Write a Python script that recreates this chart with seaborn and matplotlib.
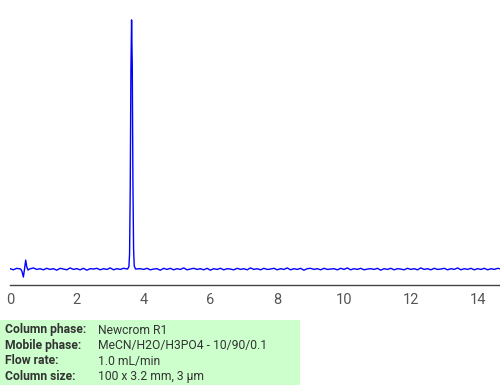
import numpy as np
import pandas as pd
import matplotlib
matplotlib.use("Agg")
import matplotlib.pyplot as plt
import seaborn as sns

# ---- data ----
noise_step = 0.1
baseline_noise = [
    1, -2, 2, -1, 0, 2, -2, 3, -1, 1,
    -2, 2, -1, 1, -3, 2, 0, -2, 3, -1,
    1, -2, 2, -3, 1, 0, 2, -2, 1, -1,
    3, -2, 1, -1, 2, -3, 1, 2, -2, 1,
    -1, 2, -2, 0, 1, -3, 2, -1, 2, -2,
    1, -1, 3, -2, 0, 2, -1, 1, -2, 2,
    -3, 1, -1, 2, -2, 1, 0, -2, 2, -1,
    1, -2, 3, -1, 1, -2, 2, -1, 0, 2,
    -2, 1, -1, 3, -2, 1, -1, 2, -3, 1,
    2, -1, 1, -2, 2, -1, 0, 1, -2, 2,
    -1, 3, -2, 1, -1, 2, -2, 0, 1, -1,
    2, -3, 1, -1, 2, -2, 1, 0, -2, 2,
    -1, 1, -2, 3, -1, 1, -2, 2, -1, 0,
    2, -2, 1, -1, 3, -2, 1, -1, 2, -2,
    1, -1, 2, -2, 1, -1, 2, 0,
]
dist_t = [0.32, 0.36, 0.40, 0.44, 0.47, 0.50, 0.54, 0.58]
dist_y = [0, -10, -32, 5, 36, 10, -4, 0]
peak_t = [3.52, 3.56, 3.58, 3.60, 3.62, 3.64, 3.66, 3.68, 3.70, 3.72, 3.76]
peak_y = [0, 10, 60, 330, 800, 1000, 820, 350, 80, 12, 0]

x_ticks = [0, 2, 4, 6, 8, 10, 12, 14]
info_labels = ["Column phase:", "Mobile phase:", "Flow rate:", "Column size:"]
info_values = ["Newcrom R1", "MeCN/H2O/H3PO4 - 10/90/0.1", "1.0 mL/min", "100 x 3.2 mm, 3 µm"]

# ---- assemble series ----
base_t = np.round(np.arange(len(baseline_noise)) * noise_step, 3)
base_y = np.array(baseline_noise, dtype=float) * 1.5
mask = ~(((base_t >= 0.3) & (base_t <= 0.6)) | ((base_t >= 3.5) & (base_t <= 3.8)))
t_all = np.concatenate([base_t[mask], dist_t, peak_t])
y_all = np.concatenate([base_y[mask], dist_y, peak_y])
order = np.argsort(t_all, kind="stable")
df = pd.DataFrame({"t": t_all[order], "y": y_all[order]})

# ---- plot ----
sns.set_style("white")
plt.rcParams["font.family"] = ["Roboto", "DejaVu Sans"]

fig = plt.figure(figsize=(5.0, 3.85), dpi=100)
ax = fig.add_axes([0.02, 100 / 385, 0.98, 285 / 385])
sns.lineplot(data=df, x="t", y="y", ax=ax, color="#0000ff", lw=1.0,
             estimator=None, sort=False)

ax.set_xlim(0, 14.67)
ax.set_ylim(-64, 1080)
ax.set_xticks(x_ticks)
ax.set_xticklabels([str(v) for v in x_ticks])
ax.set_yticks([])
ax.set_xlabel("")
ax.set_ylabel("")
for s in ["top", "right", "left"]:
    ax.spines[s].set_visible(False)
ax.spines["bottom"].set_color("#444444")
ax.spines["bottom"].set_linewidth(1.0)
ax.tick_params(axis="x", direction="out", length=5, width=1, color="#444444",
               labelcolor="#555555", labelsize=10.5, pad=0.5)
ax.patch.set_alpha(0)

# info box
fig.patches.append(plt.Rectangle((0, 0), 300 / 500, 65 / 385, transform=fig.transFigure,
                                 facecolor="#ccffcc", edgecolor="none", zorder=0))
row_y = [330, 345.5, 361, 376.5]
for lab, val, yy in zip(info_labels, info_values, row_y):
    fig.text(5 / 500, 1 - yy / 385, lab, fontsize=8.7, fontweight="bold",
             color="#333333", va="center", ha="left")
    fig.text(98 / 500, 1 - yy / 385, val, fontsize=8.7,
             color="#333333", va="center", ha="left")

fig.savefig("out.png", dpi=100)
